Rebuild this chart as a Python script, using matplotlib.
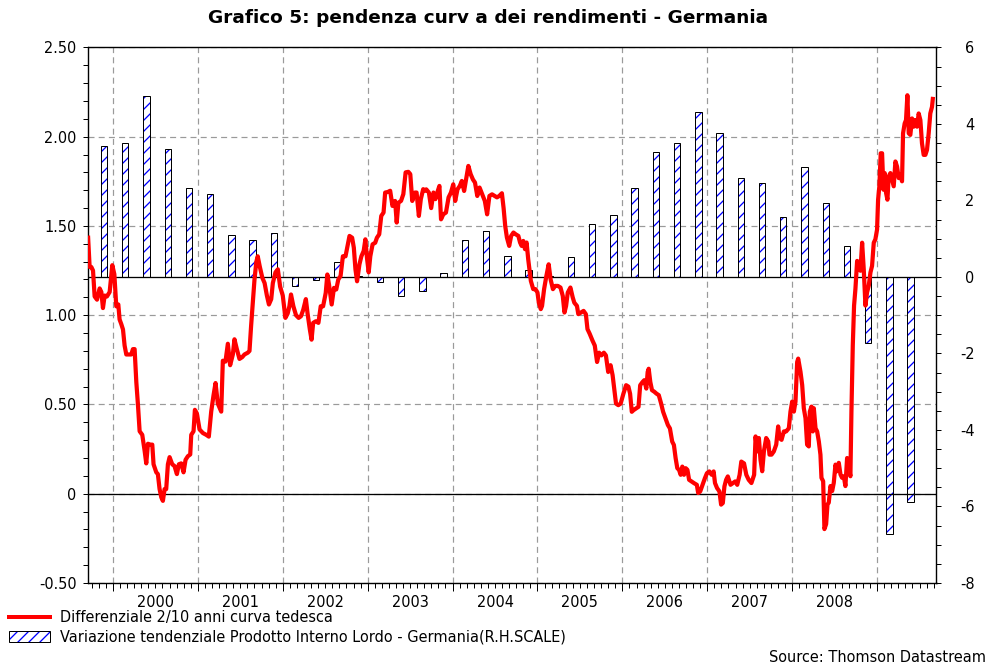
import numpy as np
import matplotlib
matplotlib.use('Agg')
import matplotlib.pyplot as plt
from matplotlib.patches import Patch
from matplotlib.lines import Line2D
from matplotlib.legend_handler import HandlerTuple
from matplotlib import transforms
from matplotlib.ticker import FixedLocator, MultipleLocator

W, H, DPI = 993, 663, 66
P = 72 / DPI  # points per pixel

plt.rcParams['font.family'] = ['DejaVu Sans']
plt.rcParams['axes.unicode_minus'] = False
plt.rcParams['hatch.linewidth'] = 1.3 * P

title = "Grafico 5: pendenza curv a dei rendimenti - Germania"
label_spread = "Differenziale 2/10 anni curva tedesca"
label_gdp = "Variazione tendenziale Prodotto Interno Lordo - Germania(R.H.SCALE)"
source = "Source: Thomson Datastream"
year_labels = ['2000', '2001', '2002', '2003', '2004', '2005', '2006', '2007', '2008']

# 2/10 year spread (left scale), time in decimal years
spread_t = [
    1999.706, 1999.725, 1999.745, 1999.765, 1999.784, 1999.812, 1999.843, 1999.863, 1999.882, 1999.902,
    1999.929, 1999.961, 1999.992, 2000.016, 2000.039, 2000.063, 2000.078, 2000.098, 2000.118, 2000.137,
    2000.157, 2000.188, 2000.216, 2000.235, 2000.255, 2000.275, 2000.294, 2000.314, 2000.345, 2000.373,
    2000.392, 2000.412, 2000.439, 2000.463, 2000.478, 2000.510, 2000.529, 2000.549, 2000.569, 2000.588,
    2000.608, 2000.627, 2000.647, 2000.667, 2000.698, 2000.725, 2000.753, 2000.776, 2000.804, 2000.831,
    2000.855, 2000.882, 2000.910, 2000.922, 2000.949, 2000.965, 2000.988, 2001.020, 2001.059, 2001.098,
    2001.129, 2001.157, 2001.184, 2001.208, 2001.235, 2001.275, 2001.294, 2001.325, 2001.353, 2001.380,
    2001.412, 2001.431, 2001.459, 2001.490, 2001.522, 2001.549, 2001.588, 2001.608, 2001.627, 2001.647,
    2001.667, 2001.689, 2001.705, 2001.728, 2001.759, 2001.786, 2001.813, 2001.837, 2001.864, 2001.883,
    2001.914, 2001.942, 2001.969, 2002.000, 2002.031, 2002.058, 2002.078, 2002.097, 2002.125, 2002.156,
    2002.187, 2002.214, 2002.241, 2002.272, 2002.292, 2002.319, 2002.339, 2002.358, 2002.389, 2002.420,
    2002.447, 2002.475, 2002.506, 2002.525, 2002.545, 2002.576, 2002.603, 2002.630, 2002.654, 2002.681,
    2002.708, 2002.739, 2002.759, 2002.786, 2002.817, 2002.837, 2002.856, 2002.875, 2002.903, 2002.926,
    2002.953, 2002.973, 2002.992, 2003.012, 2003.031, 2003.058, 2003.089, 2003.109, 2003.136, 2003.160,
    2003.187, 2003.206, 2003.237, 2003.265, 2003.292, 2003.323, 2003.342, 2003.362, 2003.393, 2003.420,
    2003.447, 2003.479, 2003.502, 2003.525, 2003.556, 2003.576, 2003.603, 2003.626, 2003.654, 2003.681,
    2003.690, 2003.721, 2003.748, 2003.775, 2003.798, 2003.826, 2003.845, 2003.864, 2003.891, 2003.922,
    2003.953, 2003.981, 2004.008, 2004.031, 2004.058, 2004.085, 2004.109, 2004.136, 2004.163, 2004.186,
    2004.213, 2004.240, 2004.264, 2004.291, 2004.318, 2004.349, 2004.380, 2004.407, 2004.434, 2004.465,
    2004.496, 2004.523, 2004.550, 2004.581, 2004.601, 2004.620, 2004.640, 2004.667, 2004.690, 2004.717,
    2004.744, 2004.775, 2004.795, 2004.814, 2004.833, 2004.853, 2004.872, 2004.891, 2004.922, 2004.950,
    2004.977, 2005.000, 2005.016, 2005.039, 2005.054, 2005.078, 2005.105, 2005.132, 2005.155, 2005.182,
    2005.209, 2005.240, 2005.271, 2005.298, 2005.318, 2005.337, 2005.357, 2005.388, 2005.415, 2005.434,
    2005.465, 2005.481, 2005.512, 2005.543, 2005.570, 2005.589, 2005.615, 2005.647, 2005.675, 2005.702,
    2005.726, 2005.754, 2005.782, 2005.806, 2005.833, 2005.861, 2005.885, 2005.901, 2005.925, 2005.952,
    2005.980, 2006.012, 2006.044, 2006.071, 2006.091, 2006.111, 2006.131, 2006.163, 2006.190, 2006.210,
    2006.238, 2006.258, 2006.282, 2006.298, 2006.310, 2006.329, 2006.349, 2006.377, 2006.401, 2006.429,
    2006.456, 2006.480, 2006.508, 2006.536, 2006.560, 2006.587, 2006.607, 2006.627, 2006.647, 2006.667,
    2006.687, 2006.706, 2006.726, 2006.746, 2006.766, 2006.786, 2006.813, 2006.845, 2006.877, 2006.893,
    2006.917, 2006.944, 2006.972, 2006.996, 2007.024, 2007.052, 2007.075, 2007.091, 2007.115, 2007.143,
    2007.163, 2007.183, 2007.202, 2007.222, 2007.242, 2007.274, 2007.302, 2007.329, 2007.353, 2007.381,
    2007.401, 2007.433, 2007.460, 2007.488, 2007.520, 2007.552, 2007.569, 2007.588, 2007.608, 2007.627,
    2007.647, 2007.667, 2007.694, 2007.718, 2007.733, 2007.757, 2007.784, 2007.812, 2007.835, 2007.851,
    2007.875, 2007.902, 2007.929, 2007.961, 2007.980, 2008.000, 2008.020, 2008.039, 2008.059, 2008.071,
    2008.098, 2008.118, 2008.137, 2008.157, 2008.176, 2008.196, 2008.208, 2008.227, 2008.243, 2008.255,
    2008.275, 2008.294, 2008.314, 2008.333, 2008.345, 2008.365, 2008.380, 2008.400, 2008.416, 2008.431,
    2008.451, 2008.471, 2008.490, 2008.510, 2008.529, 2008.549, 2008.569, 2008.588, 2008.608, 2008.627,
    2008.647, 2008.667, 2008.686, 2008.698, 2008.714, 2008.729, 2008.745, 2008.765, 2008.784, 2008.804,
    2008.824, 2008.843, 2008.863, 2008.882, 2008.902, 2008.922, 2008.941, 2008.961, 2008.980, 2009.000,
    2009.012, 2009.027, 2009.043, 2009.059, 2009.075, 2009.090, 2009.106, 2009.122, 2009.137, 2009.157,
    2009.176, 2009.196, 2009.216, 2009.235, 2009.255, 2009.275, 2009.294, 2009.306, 2009.325, 2009.341,
    2009.357, 2009.373, 2009.392, 2009.412, 2009.431, 2009.451, 2009.471, 2009.490, 2009.510, 2009.529,
    2009.549, 2009.569, 2009.588, 2009.608, 2009.627, 2009.647, 2009.659,
]
spread_v = [
    1.446, 1.27, 1.27, 1.25, 1.105, 1.087, 1.15, 1.13, 1.04, 1.11,
    1.105, 1.13, 1.28, 1.23, 1.05, 1.06, 0.976, 0.95, 0.92, 0.83,
    0.78, 0.78, 0.78, 0.81, 0.81, 0.625, 0.50, 0.35, 0.33, 0.24,
    0.17, 0.28, 0.275, 0.275, 0.165, 0.12, 0.11, 0.026, -0.02, -0.04,
    0.026, 0.026, 0.165, 0.205, 0.165, 0.155, 0.11, 0.165, 0.17, 0.12,
    0.19, 0.21, 0.22, 0.33, 0.35, 0.47, 0.45, 0.36, 0.34, 0.33,
    0.32, 0.46, 0.55, 0.62, 0.505, 0.46, 0.745, 0.74, 0.84, 0.72,
    0.78, 0.865, 0.81, 0.755, 0.765, 0.78, 0.79, 0.80, 0.94, 1.07,
    1.20, 1.30, 1.33, 1.275, 1.21, 1.18, 1.11, 1.06, 1.09, 1.18,
    1.24, 1.257, 1.16, 1.11, 0.985, 1.01, 1.05, 1.116, 1.05, 1.00,
    0.985, 0.994, 1.03, 1.09, 1.01, 0.92, 0.863, 0.957, 0.966, 0.957,
    1.05, 1.05, 1.125, 1.228, 1.17, 1.06, 1.153, 1.144, 1.20, 1.22,
    1.33, 1.33, 1.378, 1.444, 1.434, 1.378, 1.257, 1.19, 1.285, 1.33,
    1.36, 1.425, 1.32, 1.24, 1.33, 1.397, 1.406, 1.434, 1.453, 1.556,
    1.575, 1.687, 1.69, 1.697, 1.612, 1.64, 1.519, 1.63, 1.64, 1.678,
    1.80, 1.803, 1.79, 1.64, 1.687, 1.687, 1.556, 1.65, 1.706, 1.697,
    1.705, 1.687, 1.60, 1.687, 1.65, 1.696, 1.724, 1.537, 1.565, 1.575,
    1.66, 1.687, 1.733, 1.64, 1.705, 1.724, 1.752, 1.696, 1.77, 1.836,
    1.79, 1.76, 1.743, 1.668, 1.715, 1.677, 1.64, 1.565, 1.668, 1.677,
    1.668, 1.66, 1.668, 1.683, 1.60, 1.50, 1.435, 1.388, 1.444, 1.463,
    1.453, 1.444, 1.407, 1.388, 1.416, 1.37, 1.407, 1.313, 1.192, 1.146,
    1.146, 1.127, 1.07, 1.034, 1.052, 1.146, 1.22, 1.285, 1.20, 1.146,
    1.164, 1.164, 1.155, 1.108, 1.015, 1.052, 1.127, 1.155, 1.10, 1.07,
    1.052, 1.006, 1.015, 1.024, 1.006, 0.922, 0.896, 0.859, 0.83, 0.738,
    0.79, 0.775, 0.79, 0.775, 0.682, 0.72, 0.664, 0.60, 0.505, 0.496,
    0.505, 0.56, 0.608, 0.60, 0.56, 0.459, 0.468, 0.478, 0.487, 0.608,
    0.626, 0.636, 0.589, 0.682, 0.70, 0.626, 0.58, 0.571, 0.561, 0.552,
    0.506, 0.459, 0.422, 0.385, 0.366, 0.292, 0.273, 0.20, 0.143, 0.134,
    0.106, 0.152, 0.106, 0.143, 0.134, 0.078, 0.069, 0.059, 0.05, 0.004,
    0.013, 0.05, 0.087, 0.115, 0.125, 0.106, 0.125, 0.06, 0.032, 0.013,
    -0.061, -0.052, 0.041, 0.078, 0.097, 0.05, 0.06, 0.069, 0.05, 0.106,
    0.18, 0.17, 0.106, 0.078, 0.06, 0.106, 0.321, 0.237, 0.312, 0.19,
    0.126, 0.237, 0.312, 0.293, 0.219, 0.219, 0.237, 0.275, 0.377, 0.312,
    0.302, 0.349, 0.349, 0.367, 0.46, 0.516, 0.46, 0.516, 0.738, 0.757,
    0.683, 0.609, 0.479, 0.423, 0.275, 0.265, 0.46, 0.488, 0.349, 0.479,
    0.367, 0.349, 0.293, 0.219, 0.089, 0.07, -0.198, -0.17, -0.06, -0.05,
    0.043, 0.015, 0.061, 0.163, 0.126, 0.173, 0.108, 0.089, 0.098, 0.043,
    0.20, 0.145, 0.098, 0.46, 0.831, 1.054, 1.147, 1.304, 1.295, 1.249,
    1.406, 1.258, 1.054, 1.128, 1.165, 1.239, 1.276, 1.406, 1.425, 1.48,
    1.647, 1.722, 1.907, 1.907, 1.703, 1.796, 1.685, 1.647, 1.777, 1.796,
    1.759, 1.722, 1.861, 1.833, 1.768, 1.787, 1.75, 2.019, 2.074, 2.093,
    2.232, 2.019, 2.01, 2.102, 2.056, 2.093, 2.056, 2.13, 2.093, 1.963,
    1.898, 1.898, 1.926, 2.019, 2.13, 2.167, 2.223,
]

# German GDP, year-on-year change (right scale)
gdp_quarters = [
    '1999Q4', '2000Q1', '2000Q2', '2000Q3', '2000Q4', '2001Q1', '2001Q2', '2001Q3', '2001Q4',
    '2002Q1', '2002Q2', '2002Q3', '2002Q4', '2003Q1', '2003Q2', '2003Q3', '2003Q4',
    '2004Q1', '2004Q2', '2004Q3', '2004Q4', '2005Q1', '2005Q2', '2005Q3', '2005Q4',
    '2006Q1', '2006Q2', '2006Q3', '2006Q4', '2007Q1', '2007Q2', '2007Q3', '2007Q4',
    '2008Q1', '2008Q2', '2008Q3', '2008Q4', '2009Q1', '2009Q2',
]
gdp_yoy = [
    3.42, 3.50, 4.73, 3.34, 2.32, 2.16, 1.10, 0.97, 1.14,
    -0.23, -0.07, 0.39, 0.02, -0.14, -0.50, -0.37, 0.11,
    0.96, 1.19, 0.55, 0.17, 0.03, 0.52, 1.38, 1.61,
    2.33, 3.27, 3.49, 4.30, 3.75, 2.58, 2.45, 1.57,
    2.87, 1.94, 0.81, -1.73, -6.72, -5.89,
]

fig = plt.figure(figsize=(W / DPI, H / DPI), dpi=DPI)
ax = fig.add_axes([87.5 / W, 80 / H, 849 / W, 535.6 / H])
ax2 = ax.twinx()

x0, x1 = 1999.70, 2009.70
grid_kw = dict(color='#9a9a9a', linestyle=(0, (5, 3.5)), linewidth=1.2 * P)
TICK_FS = 14.5 * P

# x axis: year boundaries (major), months (minor), year labels on a secondary axis
years = np.arange(2000, 2010)
months = [y + m / 12 for y in range(1999, 2010) for m in range(12) if x0 <= y + m / 12 <= x1]
ax.xaxis.set_major_locator(FixedLocator(years))
ax.xaxis.set_minor_locator(FixedLocator(months))
ax.tick_params(axis='x', which='major', direction='out', length=8 * P, width=1 * P, labelbottom=False)
ax.tick_params(axis='x', which='minor', direction='out', length=5 * P, width=1 * P)
ax.grid(True, axis='x', which='major', **grid_kw)

sec = ax.secondary_xaxis('bottom')
sec.set_xticks([int(y) + 0.5 for y in year_labels], labels=year_labels)
sec.tick_params(length=0, pad=12 * P, labelsize=TICK_FS)
sec.spines['bottom'].set_visible(False)

# left axis
lt = np.arange(-0.5, 2.51, 0.5)
ax.set_yticks(lt, labels=['0' if abs(v) < 1e-9 else f'{v:.2f}' for v in lt])
ax.yaxis.set_minor_locator(MultipleLocator(0.1))
ax.tick_params(axis='y', which='both', direction='out', length=5 * P, width=1 * P,
               labelsize=TICK_FS, pad=6 * P)
ax.grid(True, axis='y', which='major', **grid_kw)

# right axis
rt = np.arange(-8, 6.1, 2)
ax2.set_yticks(rt, labels=[f'{int(v)}' for v in rt], ha='right')
ax2.yaxis.set_minor_locator(MultipleLocator(0.5))
ax2.tick_params(axis='y', which='both', direction='out', length=5 * P, width=1 * P,
                labelsize=TICK_FS, pad=33 * P)

for a in (ax, ax2):
    for s in a.spines.values():
        s.set_linewidth(1.2 * P)

# GDP bars (right scale)
HATCH_BLUE = '#0000ff'
xq = [int(q[:4]) + (int(q[5]) - 1) / 4 + 0.145 for q in gdp_quarters]
ax2.bar(xq, gdp_yoy, width=0.075, color='white', edgecolor=HATCH_BLUE, hatch='//', linewidth=0, zorder=2)
ax2.bar(xq, gdp_yoy, width=0.075, fill=False, edgecolor='black', linewidth=1.0 * P, zorder=3)

# zero lines of both scales
ax2.axhline(0, color='black', linewidth=1.3 * P, zorder=4)
ax2.plot([0, 1], [0, 0], transform=transforms.blended_transform_factory(ax2.transAxes, ax.transData),
         color='black', linewidth=1.3 * P, zorder=4)

# spread line (left scale), drawn above the bars
ax2.plot(spread_t, spread_v, transform=ax.transData, color='#ff0000', linewidth=4.2 * P,
         solid_joinstyle='round', solid_capstyle='butt', zorder=5)

ax.set_xlim(x0, x1)
ax.set_ylim(-0.5, 2.5)
ax2.set_ylim(-8, 6)

# texts
fig.text(488 / W, 1 - 18 / H, title, ha='center', va='center', fontsize=18.5 * P, fontweight='bold')
fig.text(986 / W, 1 - 657 / H, source, ha='right', va='center', fontsize=14.5 * P)

h1 = Line2D([], [], color='#ff0000', linewidth=4 * P)
h2a = Patch(facecolor='white', edgecolor=HATCH_BLUE, hatch='//', linewidth=0)
h2b = Patch(facecolor='none', edgecolor='black', linewidth=1 * P)
fig.legend([h1, (h2a, h2b)], [label_spread, label_gdp],
           handler_map={tuple: HandlerTuple(ndivide=1, pad=0)},
           loc='upper left', bbox_to_anchor=(9 / W, 1 - 610 / H), frameon=False,
           fontsize=14.5 * P, handlelength=2.8, handleheight=0.75, handletextpad=0.75,
           labelspacing=0.3, borderpad=0, borderaxespad=0)

fig.savefig('out.png', dpi=DPI, facecolor='white')
